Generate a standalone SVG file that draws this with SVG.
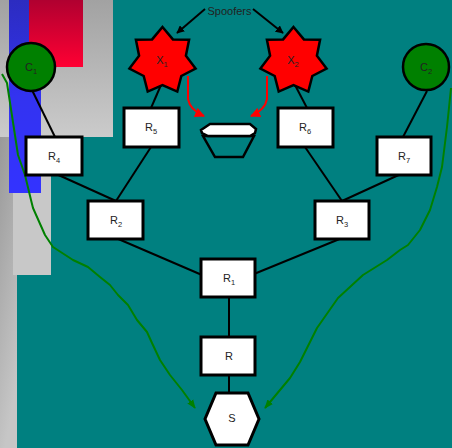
<svg xmlns="http://www.w3.org/2000/svg" width="452" height="448" viewBox="0 0 452 448">
<defs>
<linearGradient id="gTop" x1="0" y1="0" x2="0" y2="1"><stop offset="0" stop-color="#a2a2a2"/><stop offset="1" stop-color="#cbcbcb"/></linearGradient>
<linearGradient id="gStrip" x1="0" y1="0" x2="0.3" y2="1"><stop offset="0" stop-color="#999999"/><stop offset="1" stop-color="#c6c6c6"/></linearGradient>
<linearGradient id="gBlue" x1="0" y1="0" x2="0" y2="1"><stop offset="0" stop-color="#2c2cc0"/><stop offset="0.5" stop-color="#3333f0"/><stop offset="1" stop-color="#3333ff"/></linearGradient>
<linearGradient id="gRed" x1="0" y1="0" x2="0" y2="1"><stop offset="0" stop-color="#b00030"/><stop offset="1" stop-color="#ff0033"/></linearGradient>
<marker id="ahBlack" viewBox="0 0 10 10" refX="9" refY="5" markerWidth="8" markerHeight="8" markerUnits="userSpaceOnUse" orient="auto"><path d="M0,0 L10,5 L0,10 z" fill="#000"/></marker>
<marker id="ahRed" viewBox="0 0 10 10" refX="9" refY="5" markerWidth="10" markerHeight="10" markerUnits="userSpaceOnUse" orient="auto"><path d="M0,0 L10,5 L0,10 z" fill="#ff0000"/></marker>
<marker id="ahGreen" viewBox="0 0 10 10" refX="9" refY="5" markerWidth="9" markerHeight="9" markerUnits="userSpaceOnUse" orient="auto"><path d="M0,1 L10,5 L0,9 z" fill="#008000"/></marker>
</defs>
<style>
.box{fill:#fff;stroke:#000;stroke-width:3}
.circ{fill:#008000;stroke:#000;stroke-width:2.5}
.star{fill:#ff0000;stroke:#000;stroke-width:2.5;stroke-linejoin:miter}
.lbl{font-family:"Liberation Sans",Arial,sans-serif;font-size:11px;fill:#222;text-anchor:middle}
.sub{font-size:7.5px}
.conn line{stroke:#000;stroke-width:2}
.green{fill:none;stroke:#008000;stroke-width:2;stroke-linejoin:round}
.red{fill:none;stroke:#ff0000;stroke-width:2}
</style>
<rect x="0" y="0" width="452" height="448" fill="#008080"/>
<rect x="0" y="0" width="113" height="137" fill="url(#gTop)"/>
<rect x="0" y="137" width="17" height="311" fill="url(#gStrip)"/>
<rect x="13" y="137" width="38" height="138" fill="#c8c8c8"/>
<rect x="9" y="0" width="32" height="193" fill="url(#gBlue)"/>
<rect x="29" y="0" width="54" height="67" fill="url(#gRed)"/>
<g id="connectors" class="conn">
<line x1="32" y1="90" x2="55" y2="137"/>
<line x1="427" y1="91" x2="403" y2="137"/>
<line x1="161" y1="85" x2="151" y2="108"/>
<line x1="295" y1="85" x2="307" y2="108"/>
<line x1="54" y1="173" x2="116" y2="201"/>
<line x1="151" y1="147" x2="116" y2="201"/>
<line x1="305" y1="147" x2="342" y2="201"/>
<line x1="403" y1="173" x2="342" y2="201"/>
<line x1="116" y1="238" x2="202" y2="275"/>
<line x1="342" y1="238" x2="254" y2="274"/>
<line x1="229" y1="297" x2="229" y2="337"/>
<line x1="229" y1="375" x2="229" y2="393"/>
<line x1="205" y1="9" x2="177" y2="33" marker-end="url(#ahBlack)"/>
<line x1="253" y1="9" x2="283" y2="33" marker-end="url(#ahBlack)"/>
<path class="red" d="M188,76 L188,99 Q190,110 204,116" marker-end="url(#ahRed)"/>
<path class="red" d="M267,76 L267,99 Q265,110 251,116" marker-end="url(#ahRed)"/>
<path class="green" d="M2,74 L7,83 L18,155 L25,175 L31,200 L33,208 L45,235 L53,247 L73,260 L88,267 L100,277 L110,285 L118,295 L128,305 L137,320 L147,332 L152,343 L160,360 L170,375 L182,390 L195,408" marker-end="url(#ahGreen)"/>
<path class="green" d="M451,88 L447,127 L442,167 L437,187 L430,210 L420,230 L408,245 L400,250 L387,260 L363,275 L338,298 L317,328 L300,362 L290,378 L265,408" marker-end="url(#ahGreen)"/>
</g>
<text class="lbl" x="229.5" y="15" font-size="10.5">Spoofers</text>
<g id="C1"><circle class="circ" cx="31" cy="67" r="24"/><text class="lbl" x="31" y="70.5">C<tspan class="sub" dy="3">1</tspan></text></g>
<g id="C2"><circle class="circ" cx="426" cy="67" r="23"/><text class="lbl" x="426" y="70.5">C<tspan class="sub" dy="3">2</tspan></text></g>
<g id="X1"><polygon class="star" points="162.5,27 172.9,39.4 189.1,39.8 185.9,55.7 195.6,68.6 181.3,76 177.3,91.6 162.5,85 147.7,91.6 143.7,76 129.4,68.6 139.1,55.7 135.9,39.8 152.1,39.4"/><text class="lbl" x="162" y="64">X<tspan class="sub" dy="3">1</tspan></text></g>
<g id="X2"><polygon class="star" points="293.5,27 303.9,39.4 320.1,39.8 316.9,55.7 326.6,68.6 312.3,76 308.3,91.6 293.5,85 278.7,91.6 274.7,76 260.4,68.6 270.1,55.7 266.9,39.8 283.1,39.4"/><text class="lbl" x="293" y="64">X<tspan class="sub" dy="3">2</tspan></text></g>
<g id="bowl">
<polygon points="203,136 254,136 243,157 215,157" fill="none" stroke="#000" stroke-width="2.5"/>
<polygon points="201,130 210,124 250,124 256,129 255,133 250,136 208,136 202,133" fill="#fff" stroke="#000" stroke-width="2.5"/>
</g>
<g id="R4"><rect class="box" x="26" y="137" width="56" height="38"/><text class="lbl" x="54" y="160">R<tspan class="sub" dy="3">4</tspan></text></g>
<g id="R5"><rect class="box" x="124" y="108" width="55" height="39"/><text class="lbl" x="151" y="131">R<tspan class="sub" dy="3">5</tspan></text></g>
<g id="R6"><rect class="box" x="278" y="108" width="55" height="39"/><text class="lbl" x="305" y="131">R<tspan class="sub" dy="3">6</tspan></text></g>
<g id="R7"><rect class="box" x="377" y="137" width="54" height="38"/><text class="lbl" x="404" y="160">R<tspan class="sub" dy="3">7</tspan></text></g>
<g id="R2"><rect class="box" x="88" y="201" width="55" height="38"/><text class="lbl" x="116" y="224">R<tspan class="sub" dy="3">2</tspan></text></g>
<g id="R3"><rect class="box" x="315" y="201" width="54" height="38"/><text class="lbl" x="342" y="224">R<tspan class="sub" dy="3">3</tspan></text></g>
<g id="R1"><rect class="box" x="201" y="259" width="54" height="38"/><text class="lbl" x="229" y="282">R<tspan class="sub" dy="3">1</tspan></text></g>
<g id="R"><rect class="box" x="201" y="337" width="54" height="38"/><text class="lbl" x="229" y="360">R</text></g>
<g id="S"><polygon class="box" points="216,393 248,393 259,419 248,445 216,445 205,419"/><text class="lbl" x="232" y="422">S</text></g>
</svg>
